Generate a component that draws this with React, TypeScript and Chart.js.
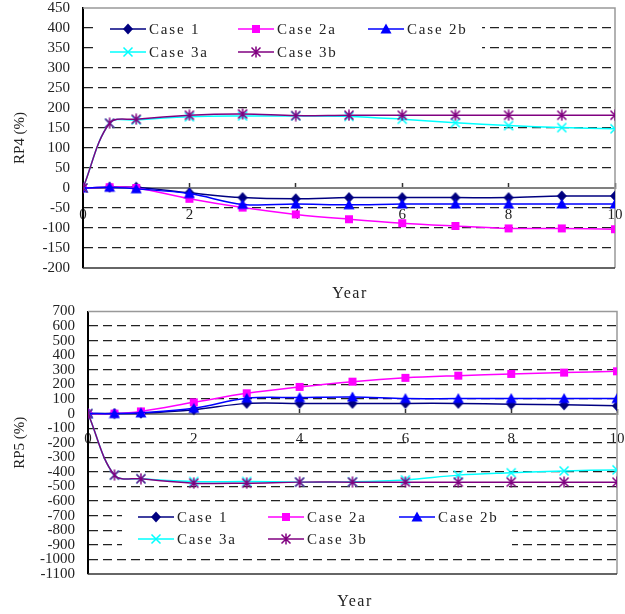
import React, { useEffect, useRef } from 'react';
import { Chart, registerables } from 'chart.js';

Chart.register(...registerables);

// ---- data ----
const years = [0, 0.5, 1, 2, 3, 4, 5, 6, 7, 8, 9, 10];
const seriesNames = ['Case 1', 'Case 2a', 'Case 2b', 'Case 3a', 'Case 3b'];
const seriesColors = ['#000080', '#FF00FF', '#0000FF', '#00FFFF', '#800080'];
const markerKinds = ['diamond', 'square', 'triangle', 'x', 'star'];

const rp4Case1 = [0, 2, 2, -12, -24, -27, -24, -24, -24, -24, -20, -20];
const rp4Case2a = [0, 2, 0, -27, -49, -66, -78, -88, -95, -101, -101, -103];
const rp4Case2b = [0, 2, -2, -14, -41, -40, -42, -40, -40, -40, -40, -40];
const rp4Case3a = [0, 162, 170, 178, 180, 180, 179, 172, 163, 156, 151, 148];
const rp4Case3b = [0, 162, 172, 182, 185, 181, 182, 182, 182, 182, 182, 182];

const rp5Case1 = [0, 0, 3, 27, 70, 70, 70, 70, 70, 64, 60, 53];
const rp5Case2a = [0, 0, 15, 77, 139, 183, 219, 245, 260, 272, 281, 290];
const rp5Case2b = [0, 0, 5, 36, 105, 110, 114, 103, 103, 103, 103, 103];
const rp5Case3a = [0, -422, -447, -466, -466, -470, -468, -455, -422, -406, -393, -386];
const rp5Case3b = [0, -422, -447, -477, -477, -470, -470, -470, -470, -470, -470, -470];

const rp4Axis = { min: -200, max: 450, step: 50 };
const rp5Axis = { min: -1100, max: 700, step: 100 };
const xAxis = { min: 0, max: 10, step: 2 };

const FONT = "'Liberation Serif', 'DejaVu Serif', serif";
const TEXT = '#222';

function makeMarker(kind: string, color: string): HTMLCanvasElement {
  const c = document.createElement('canvas');
  const s = 12;
  c.width = s;
  c.height = s;
  const g = c.getContext('2d')!;
  g.fillStyle = color;
  g.strokeStyle = color;
  g.lineWidth = 1.5;
  const m = s / 2;
  g.beginPath();
  if (kind === 'diamond') {
    g.moveTo(m, 0.5); g.lineTo(s - 1, m); g.lineTo(m, s - 0.5); g.lineTo(1, m); g.closePath(); g.fill();
  } else if (kind === 'square') {
    g.fillRect(2, 2, 8, 8);
  } else if (kind === 'triangle') {
    g.moveTo(m, 0.5); g.lineTo(s - 0.5, s - 1.5); g.lineTo(0.5, s - 1.5); g.closePath(); g.fill();
  } else if (kind === 'x') {
    g.moveTo(1.5, 1.5); g.lineTo(s - 1.5, s - 1.5); g.moveTo(s - 1.5, 1.5); g.lineTo(1.5, s - 1.5); g.stroke();
  } else {
    g.moveTo(1.5, 1.5); g.lineTo(s - 1.5, s - 1.5); g.moveTo(s - 1.5, 1.5); g.lineTo(1.5, s - 1.5);
    g.moveTo(m, 0.5); g.lineTo(m, s - 0.5); g.stroke();
  }
  return c;
}

type LegendSpec = { box: [number, number, number, number]; cols: number[]; rows: number[] };

function buildChart(
  canvas: HTMLCanvasElement,
  series: number[][],
  axis: { min: number; max: number; step: number },
  yTitle: string,
  padding: { left: number; right: number; top: number; bottom: number },
  yWidth: number,
  legend: LegendSpec,
  yearPos: [number, number],
  xLabelPad: number
) {
  const markers = seriesColors.map((c, i) => makeMarker(markerKinds[i], c));
  const datasets = series.map((vals, i) => ({
    label: seriesNames[i],
    data: years.map((x, j) => ({ x, y: vals[j] })),
    borderColor: seriesColors[i],
    backgroundColor: seriesColors[i],
    borderWidth: 1.5,
    tension: 0.35,
    pointStyle: markers[i] as any,
    pointRadius: 5,
    order: 5 - i,
  }));

  const decor = {
    id: 'decor',
    beforeDatasetsDraw(chart: any) {
      const ctx = chart.ctx as CanvasRenderingContext2D;
      const { left, right, top, bottom } = chart.chartArea;
      ctx.save();
      ctx.lineWidth = 1.5;
      ctx.strokeStyle = '#999';
      ctx.beginPath();
      ctx.moveTo(left, top); ctx.lineTo(right, top); ctx.lineTo(right, bottom);
      ctx.stroke();
      ctx.strokeStyle = '#333';
      ctx.beginPath();
      ctx.moveTo(left, bottom); ctx.lineTo(right, bottom);
      ctx.stroke();
      // legend
      const [bx0, by0, bx1, by1] = legend.box;
      ctx.fillStyle = '#fff';
      ctx.fillRect(bx0, by0, bx1 - bx0, by1 - by0);
      ctx.font = `15px ${FONT}`;
      (ctx as any).letterSpacing = '1.8px';
      ctx.textBaseline = 'middle';
      ctx.textAlign = 'left';
      seriesNames.forEach((name, i) => {
        const col = i % 3;
        const row = Math.floor(i / 3);
        const lx = legend.cols[col];
        const ly = legend.rows[row];
        ctx.strokeStyle = seriesColors[i];
        ctx.lineWidth = 1.5;
        ctx.beginPath();
        ctx.moveTo(lx, ly); ctx.lineTo(lx + 36, ly);
        ctx.stroke();
        const mk = markers[i];
        ctx.drawImage(mk, lx + 18 - mk.width / 2, ly - mk.height / 2);
        ctx.fillStyle = TEXT;
        ctx.fillText(name, lx + 39, ly + 1);
      });
      ctx.restore();
    },
    afterDraw(chart: any) {
      const ctx = chart.ctx as CanvasRenderingContext2D;
      ctx.save();
      ctx.font = `16px ${FONT}`;
      (ctx as any).letterSpacing = '1.5px';
      ctx.fillStyle = TEXT;
      ctx.textAlign = 'center';
      ctx.textBaseline = 'middle';
      ctx.fillText('Year', yearPos[0], yearPos[1]);
      ctx.restore();
    },
  };

  return new Chart(canvas, {
    type: 'line',
    data: { datasets: datasets as any },
    plugins: [decor],
    options: {
      animation: false,
      responsive: false,
      maintainAspectRatio: false,
      events: [],
      layout: { padding },
      plugins: { legend: { display: false }, tooltip: { enabled: false } },
      scales: {
        x: {
          type: 'linear',
          position: { y: 0 } as any,
          min: xAxis.min,
          max: xAxis.max,
          afterFit: (s: any) => { s.paddingLeft = 0; s.paddingRight = 0; },
          ticks: {
            stepSize: xAxis.step,
            autoSkip: false,
            maxRotation: 0,
            padding: xLabelPad,
            color: TEXT,
            font: { family: FONT, size: 15 },
            callback: (v: any) => String(v),
          },
          grid: { display: true, drawOnChartArea: false, drawTicks: true, tickLength: -6, tickColor: '#333', tickWidth: 1.5 },
          border: { display: true, color: '#808080', width: 2 },
        },
        y: {
          type: 'linear',
          min: axis.min,
          max: axis.max,
          afterFit: (s: any) => { s.width = yWidth; s.paddingTop = 0; s.paddingBottom = 0; },
          ticks: {
            stepSize: axis.step,
            autoSkip: false,
            padding: 13,
            color: TEXT,
            font: { family: FONT, size: 15 },
            callback: (v: any) => String(v),
          },
          grid: {
            drawTicks: false,
            lineWidth: 1.2,
            color: (c: any) => {
              const v = c.tick ? c.tick.value : null;
              if (v === 0 || v === axis.min || v === axis.max) return 'rgba(0,0,0,0)';
              return '#222';
            },
          },
          border: { display: true, color: '#000', width: 2, dash: [9, 5] },
          title: { display: true, text: yTitle, color: TEXT, font: { family: FONT, size: 15 }, padding: { top: 11, bottom: 0 } },
        },
      },
    } as any,
  });
}

export default function App() {
  const topRef = useRef<HTMLCanvasElement>(null);
  const botRef = useRef<HTMLCanvasElement>(null);

  useEffect(() => {
    const c1 = buildChart(
      topRef.current!,
      [rp4Case1, rp4Case2a, rp4Case2b, rp4Case3a, rp4Case3b],
      rp4Axis,
      'RP4 (%)',
      { left: 0, right: 10, top: 8, bottom: 37 },
      83,
      { box: [96, 9, 482, 59], cols: [110, 238, 368], rows: [29, 52] },
      [350, 294],
      24
    );
    const c2 = buildChart(
      botRef.current!,
      [rp5Case1, rp5Case2a, rp5Case2b, rp5Case3a, rp5Case3b],
      rp5Axis,
      'RP5 (%)',
      { left: 0, right: 8, top: 6, bottom: 40 },
      88,
      { box: [122, 200, 512, 247], cols: [138, 268, 399], rows: [212, 234] },
      [355, 297],
      22
    );
    return () => {
      c1.destroy();
      c2.destroy();
    };
  }, []);

  return (
    <div style={{ position: 'fixed', left: 0, top: 0, width: 625, height: 614, background: '#fff' }}>
      <canvas ref={topRef} width={625} height={305} style={{ position: 'absolute', left: 0, top: 0, display: 'block' }} />
      <canvas ref={botRef} width={625} height={309} style={{ position: 'absolute', left: 0, top: 305, display: 'block' }} />
    </div>
  );
}
